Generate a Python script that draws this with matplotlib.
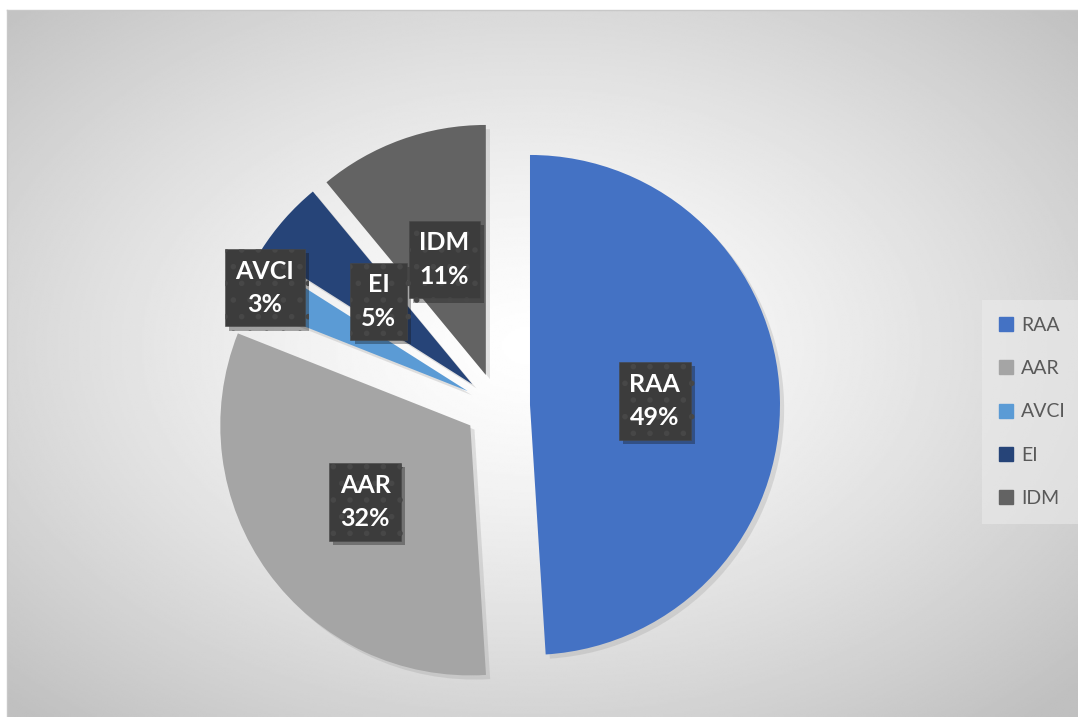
import numpy as np
import matplotlib
matplotlib.use("Agg")
import matplotlib.pyplot as plt
import matplotlib.patheffects as pe
from matplotlib.lines import Line2D

categories = ["RAA", "AAR", "AVCI", "EI", "IDM"]
shares = [49, 32, 3, 5, 11]
colors = ["#4472C4", "#A5A5A5", "#5B9BD5", "#264478", "#636363"]
# how far out along each wedge the label box sits (fraction of radius)
label_dist = [0.50, 0.52, 0.91, 0.50, 0.49]

W, H = 1078, 717
fig = plt.figure(figsize=(W / 100, H / 100), dpi=100)

# radial grey-to-white backdrop of the chart area
bg = fig.add_axes([7 / W, 0, 1 - 7 / W, 1 - 10 / H])
xx, yy = np.meshgrid(np.linspace(-1, 1, 600), np.linspace(-1, 1, 400))
cx, cy = -0.02, -0.05
d = np.sqrt((xx - cx) ** 2 + (yy - cy) ** 2) / np.sqrt(2)
shade = 1 - 0.25 * np.clip(d, 0, 1) ** 1.3
bg.imshow(shade, cmap="gray", vmin=0, vmax=1, aspect="auto", interpolation="bilinear")
bg.axis("off")

ax = fig.add_axes([0, 0, 1, 1])
ax.axis("off")

radius = 250
center = (497, H - 406)
wedges, _ = ax.pie(shares, colors=colors, startangle=90, counterclock=False,
                   radius=radius, center=center, explode=[33] * len(shares),
                   wedgeprops=dict(linewidth=0))
ax.set_xlim(0, W)
ax.set_ylim(0, H)
ax.set_aspect("equal")

for w in wedges:
    w.set_path_effects([pe.SimplePatchShadow(offset=(3, -3), shadow_rgbFace="#a0a0a0", alpha=0.3),
                        pe.Normal()])

plt.rcParams["hatch.linewidth"] = 1.6
total = sum(shares)
for w, name, val, dist in zip(wedges, categories, shares, label_dist):
    mid = np.deg2rad((w.theta1 + w.theta2) / 2)
    x = w.center[0] + dist * radius * np.cos(mid)
    y = w.center[1] + dist * radius * np.sin(mid)
    t = ax.text(x, y, f"{name}\n{round(100 * val / total)}%", ha="center", va="center",
                color="white", fontsize=18, fontweight="bold", family=["Lato", "DejaVu Sans"],
                linespacing=1.55,
                bbox=dict(boxstyle="square,pad=0.42", facecolor="#3c3c3c", edgecolor="#474747",
                          hatch=".", linewidth=0.4))
    t.get_bbox_patch().set_path_effects([pe.SimplePatchShadow(offset=(3, -3), alpha=0.35),
                                         pe.Normal()])

handles = [Line2D([], [], marker="s", linestyle="none", markersize=10,
                  markerfacecolor=c, markeredgecolor=c) for c in colors]
leg = fig.legend(handles, categories, loc="center left", bbox_to_anchor=(982 / W, 1 - 412 / H),
                 frameon=True, fancybox=False, labelspacing=1.35,
                 handlelength=0.8, handletextpad=0.35, borderpad=0.85, borderaxespad=0,
                 prop={"family": ["Lato", "DejaVu Sans"], "size": 14})
leg.get_frame().set_facecolor("#ececec")
leg.get_frame().set_alpha(0.55)
leg.get_frame().set_edgecolor("none")
for txt in leg.get_texts():
    txt.set_color("#595959")

# thin border along the top and left of the chart area
fig.add_artist(Line2D([7 / W, 1], [1 - 10 / H, 1 - 10 / H], color="#c8c8c8", linewidth=1))
fig.add_artist(Line2D([7 / W, 7 / W], [0, 1 - 10 / H], color="#c8c8c8", linewidth=1))

fig.savefig("out.png", dpi=100, facecolor="white")
